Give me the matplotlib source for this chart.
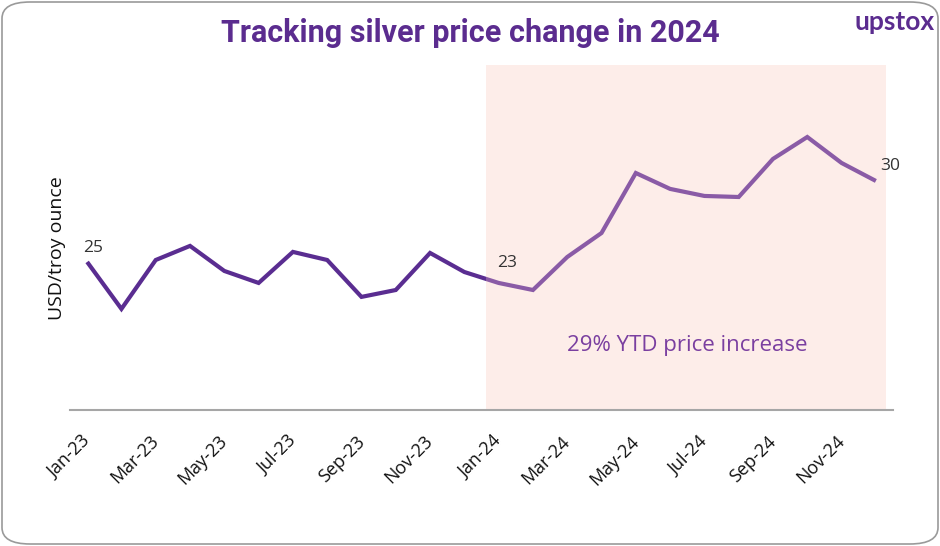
import matplotlib
matplotlib.use("Agg")
import matplotlib.pyplot as plt
from matplotlib.patches import Rectangle, FancyBboxPatch
from matplotlib.transforms import ScaledTranslation
from matplotlib import font_manager

months = ["Jan-23", "Feb-23", "Mar-23", "Apr-23", "May-23", "Jun-23",
          "Jul-23", "Aug-23", "Sep-23", "Oct-23", "Nov-23", "Dec-23",
          "Jan-24", "Feb-24", "Mar-24", "Apr-24", "May-24", "Jun-24",
          "Jul-24", "Aug-24", "Sep-24", "Oct-24", "Nov-24", "Dec-24"]
prices = [24.6, 21.47, 24.73, 25.67, 24.0, 23.2, 25.27, 24.73, 22.27, 22.73, 25.2, 23.93,
          23.2, 22.73, 24.93, 26.53, 30.53, 29.47, 29.0, 28.93, 31.47, 32.93, 31.2, 30.0]
labelled = {0: "25", 12: "23", 23: "30"}
title = "Tracking silver price change in 2024"
note = "29% YTD price increase"
ylabel = "USD/troy ounce"

names = {f.name for f in font_manager.fontManager.ttflist}
title_font = ["Liberation Sans Narrow"] if "Liberation Sans Narrow" in names else ["Roboto"]
body_font = ["Open Sans", "DejaVu Sans"]

W, H = 940, 546
fig = plt.figure(figsize=(W / 100, H / 100), dpi=100, facecolor="white")

# outer rounded border
border = FancyBboxPatch((2 / W, 2 / H), (W - 4) / W, (H - 4) / H,
                        boxstyle="round,pad=0,rounding_size=0.03",
                        transform=fig.transFigure, facecolor="none",
                        edgecolor="#9a9a9a", linewidth=1.2, zorder=10)
fig.patches.append(border)

ax = fig.add_axes([70 / W, 1 - 410 / H, 823 / W, 345 / H])
ax.set_facecolor("none")
x = list(range(len(months)))
ax.set_xlim(-0.5, 23.5)
ax.set_ylim(14.73, 37.73)

shade_x0, shade_x1 = 11.63, 23.3
shade = Rectangle((shade_x0, 14.73), shade_x1 - shade_x0, 23.0,
                  facecolor="#fdede9", edgecolor="none", zorder=1)
ax.add_patch(shade)

dark, = ax.plot(x, prices, color="#5a2d91", lw=3.0, zorder=3,
                solid_joinstyle="miter", solid_capstyle="butt")
left_clip = Rectangle((-0.5, 14.73), shade_x0 + 0.5, 23.0, transform=ax.transData)
dark.set_clip_path(left_clip)
light, = ax.plot(x, prices, color="#8a5ba6", lw=3.0, zorder=3,
                 solid_joinstyle="miter", solid_capstyle="butt")
light.set_clip_path(shade)

offsets = {0: (-4, 14), 12: (-2, 20), 23: (4, 15)}
for i, txt in labelled.items():
    ax.annotate(txt, (x[i], prices[i]), xytext=offsets[i], textcoords="offset pixels",
                ha="left", va="center", fontsize=12.5, color="#333333", family=body_font)

for s in ["top", "right", "left"]:
    ax.spines[s].set_visible(False)
ax.spines["bottom"].set_color("#a6a6a6")
ax.spines["bottom"].set_linewidth(1.5)
ax.spines["bottom"].set_zorder(4)
ax.set_yticks([])

ax.set_xticks(x[::2])
ax.set_xticklabels(months[::2], rotation=45, ha="right", va="top",
                   rotation_mode="anchor", fontsize=13, family=body_font, color="#111111")
ax.tick_params(axis="x", length=0, pad=16)
off = ScaledTranslation(-0.06, 0, fig.dpi_scale_trans)
for lab in ax.get_xticklabels():
    lab.set_transform(lab.get_transform() + off)

fig.text(470 / W, 1 - 33 / H, title, ha="center", va="center", fontsize=22,
         fontweight="bold", color="#5b2c8f", family=title_font)
fig.text(935 / W, 1 - 22 / H, "upstox", ha="right", va="center", fontsize=19,
         fontweight="bold", color="#5b2c8f", family=["Lato", "DejaVu Sans"])
fig.text(57 / W, 1 - 248 / H, ylabel, rotation=90, ha="center", va="center",
         fontsize=14, color="#111111", family=body_font)
fig.text(687 / W, 1 - 345 / H, note, ha="center", va="center", fontsize=16,
         color="#7a3fa0", family=body_font)

fig.savefig("out.png", dpi=100)
